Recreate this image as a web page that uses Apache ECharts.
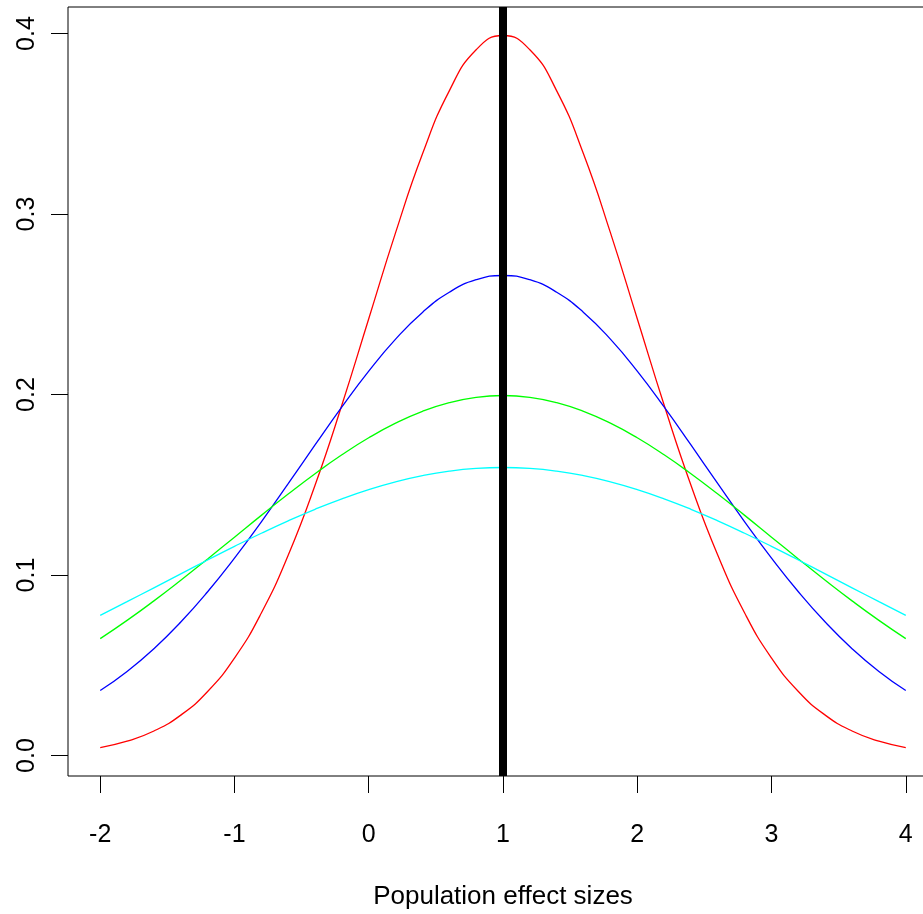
<!DOCTYPE html>
<html>
<head>
<meta charset="utf-8">
<script src="https://cdn.jsdelivr.net/npm/echarts@6/dist/echarts.min.js"></script>
<style>
html,body{margin:0;padding:0;background:#fff;}
#chart{width:923px;height:914px;}
</style>
</head>
<body>
<div id="chart"></div>
<script>
var xValues = [-2,-1.8,-1.6,-1.4,-1.2,-1,-0.8,-0.6,-0.4,-0.2,0,0.2,0.4,0.6,0.8,1,1.2,1.4,1.6,1.8,2,2.2,2.4,2.6,2.8,3,3.2,3.4,3.6,3.8,4];
var redValues = [0.00443,0.00792,0.01358,0.02239,0.03547,0.05399,0.07895,0.11092,0.14973,0.19419,0.24197,0.28969,0.33322,0.36827,0.39104,0.39894,0.39104,0.36827,0.33322,0.28969,0.24197,0.19419,0.14973,0.11092,0.07895,0.05399,0.03547,0.02239,0.01358,0.00792,0.00443];
var blueValues = [0.03599,0.04658,0.05921,0.07395,0.09072,0.10934,0.12946,0.15058,0.17205,0.19313,0.21297,0.23070,0.24551,0.25667,0.26361,0.26596,0.26361,0.25667,0.24551,0.23070,0.21297,0.19313,0.17205,0.15058,0.12946,0.10934,0.09072,0.07395,0.05921,0.04658,0.03599];
var greenValues = [0.06476,0.07487,0.08569,0.09710,0.10893,0.12099,0.13305,0.14485,0.15613,0.16661,0.17603,0.18414,0.19070,0.19552,0.19848,0.19947,0.19848,0.19552,0.19070,0.18414,0.17603,0.16661,0.15613,0.14485,0.13305,0.12099,0.10893,0.09710,0.08569,0.07487,0.06476];
var cyanValues = [0.07768,0.08523,0.09292,0.10066,0.10835,0.11588,0.12314,0.13003,0.13642,0.14221,0.14731,0.15161,0.15505,0.15755,0.15907,0.15958,0.15907,0.15755,0.15505,0.15161,0.14731,0.14221,0.13642,0.13003,0.12314,0.11588,0.10835,0.10066,0.09292,0.08523,0.07768];
var xTicks = [-2,-1,0,1,2,3,4];
var yTicks = [0,0.1,0.2,0.3,0.4];
var verticalLineX = 1;
var xTitle = 'Population effect sizes';

function pairs(ys){ return xValues.map(function(x,i){ return [x, ys[i]]; }); }

var font = 'Liberation Sans, Arial, sans-serif';
var chart = echarts.init(document.getElementById('chart'), null, {renderer:'canvas'});
function lineSeries(ys, color){
  return {type:'line', data:pairs(ys), showSymbol:false, smooth:true, animation:false,
    lineStyle:{color:color, width:1.3}, itemStyle:{color:color}};
}
chart.setOption({
  animation:false,
  backgroundColor:'#fff',
  grid:{left:68, width:870, top:7, bottom:138, show:true, borderColor:'#000', borderWidth:1,
    containLabel:false, outerBoundsMode:'none'},
  xAxis:{type:'value', min:-2.24, max:4.24,
    axisLine:{show:false, onZero:false}, splitLine:{show:false},
    axisTick:{show:true, customValues:xTicks, length:17, lineStyle:{color:'#000', width:1}},
    axisLabel:{customValues:xTicks, fontSize:25, color:'#000', fontFamily:font, margin:47},
    name:xTitle, nameLocation:'middle', nameGap:108,
    nameTextStyle:{fontSize:26, color:'#000', fontFamily:font}},
  yAxis:{type:'value', min:-0.01135, max:0.41472,
    axisLine:{show:false, onZero:false}, splitLine:{show:false},
    axisTick:{show:true, customValues:yTicks, length:17, lineStyle:{color:'#000', width:1}},
    axisLabel:{customValues:yTicks, fontSize:25, color:'#000', fontFamily:font, margin:28, rotate:90,
      formatter:function(v){ return v.toFixed(1); }}},
  series:[
    lineSeries(redValues,'#ff0000'),
    lineSeries(blueValues,'#0000ff'),
    lineSeries(greenValues,'#00ff00'),
    lineSeries(cyanValues,'#00ffff'),
    {type:'line', data:[], z:10, markLine:{silent:true, symbol:'none', animation:false,
      label:{show:false}, lineStyle:{color:'#000', width:8, type:'solid'},
      data:[{xAxis:verticalLineX}]}}
  ]
});
</script>
</body>
</html>
